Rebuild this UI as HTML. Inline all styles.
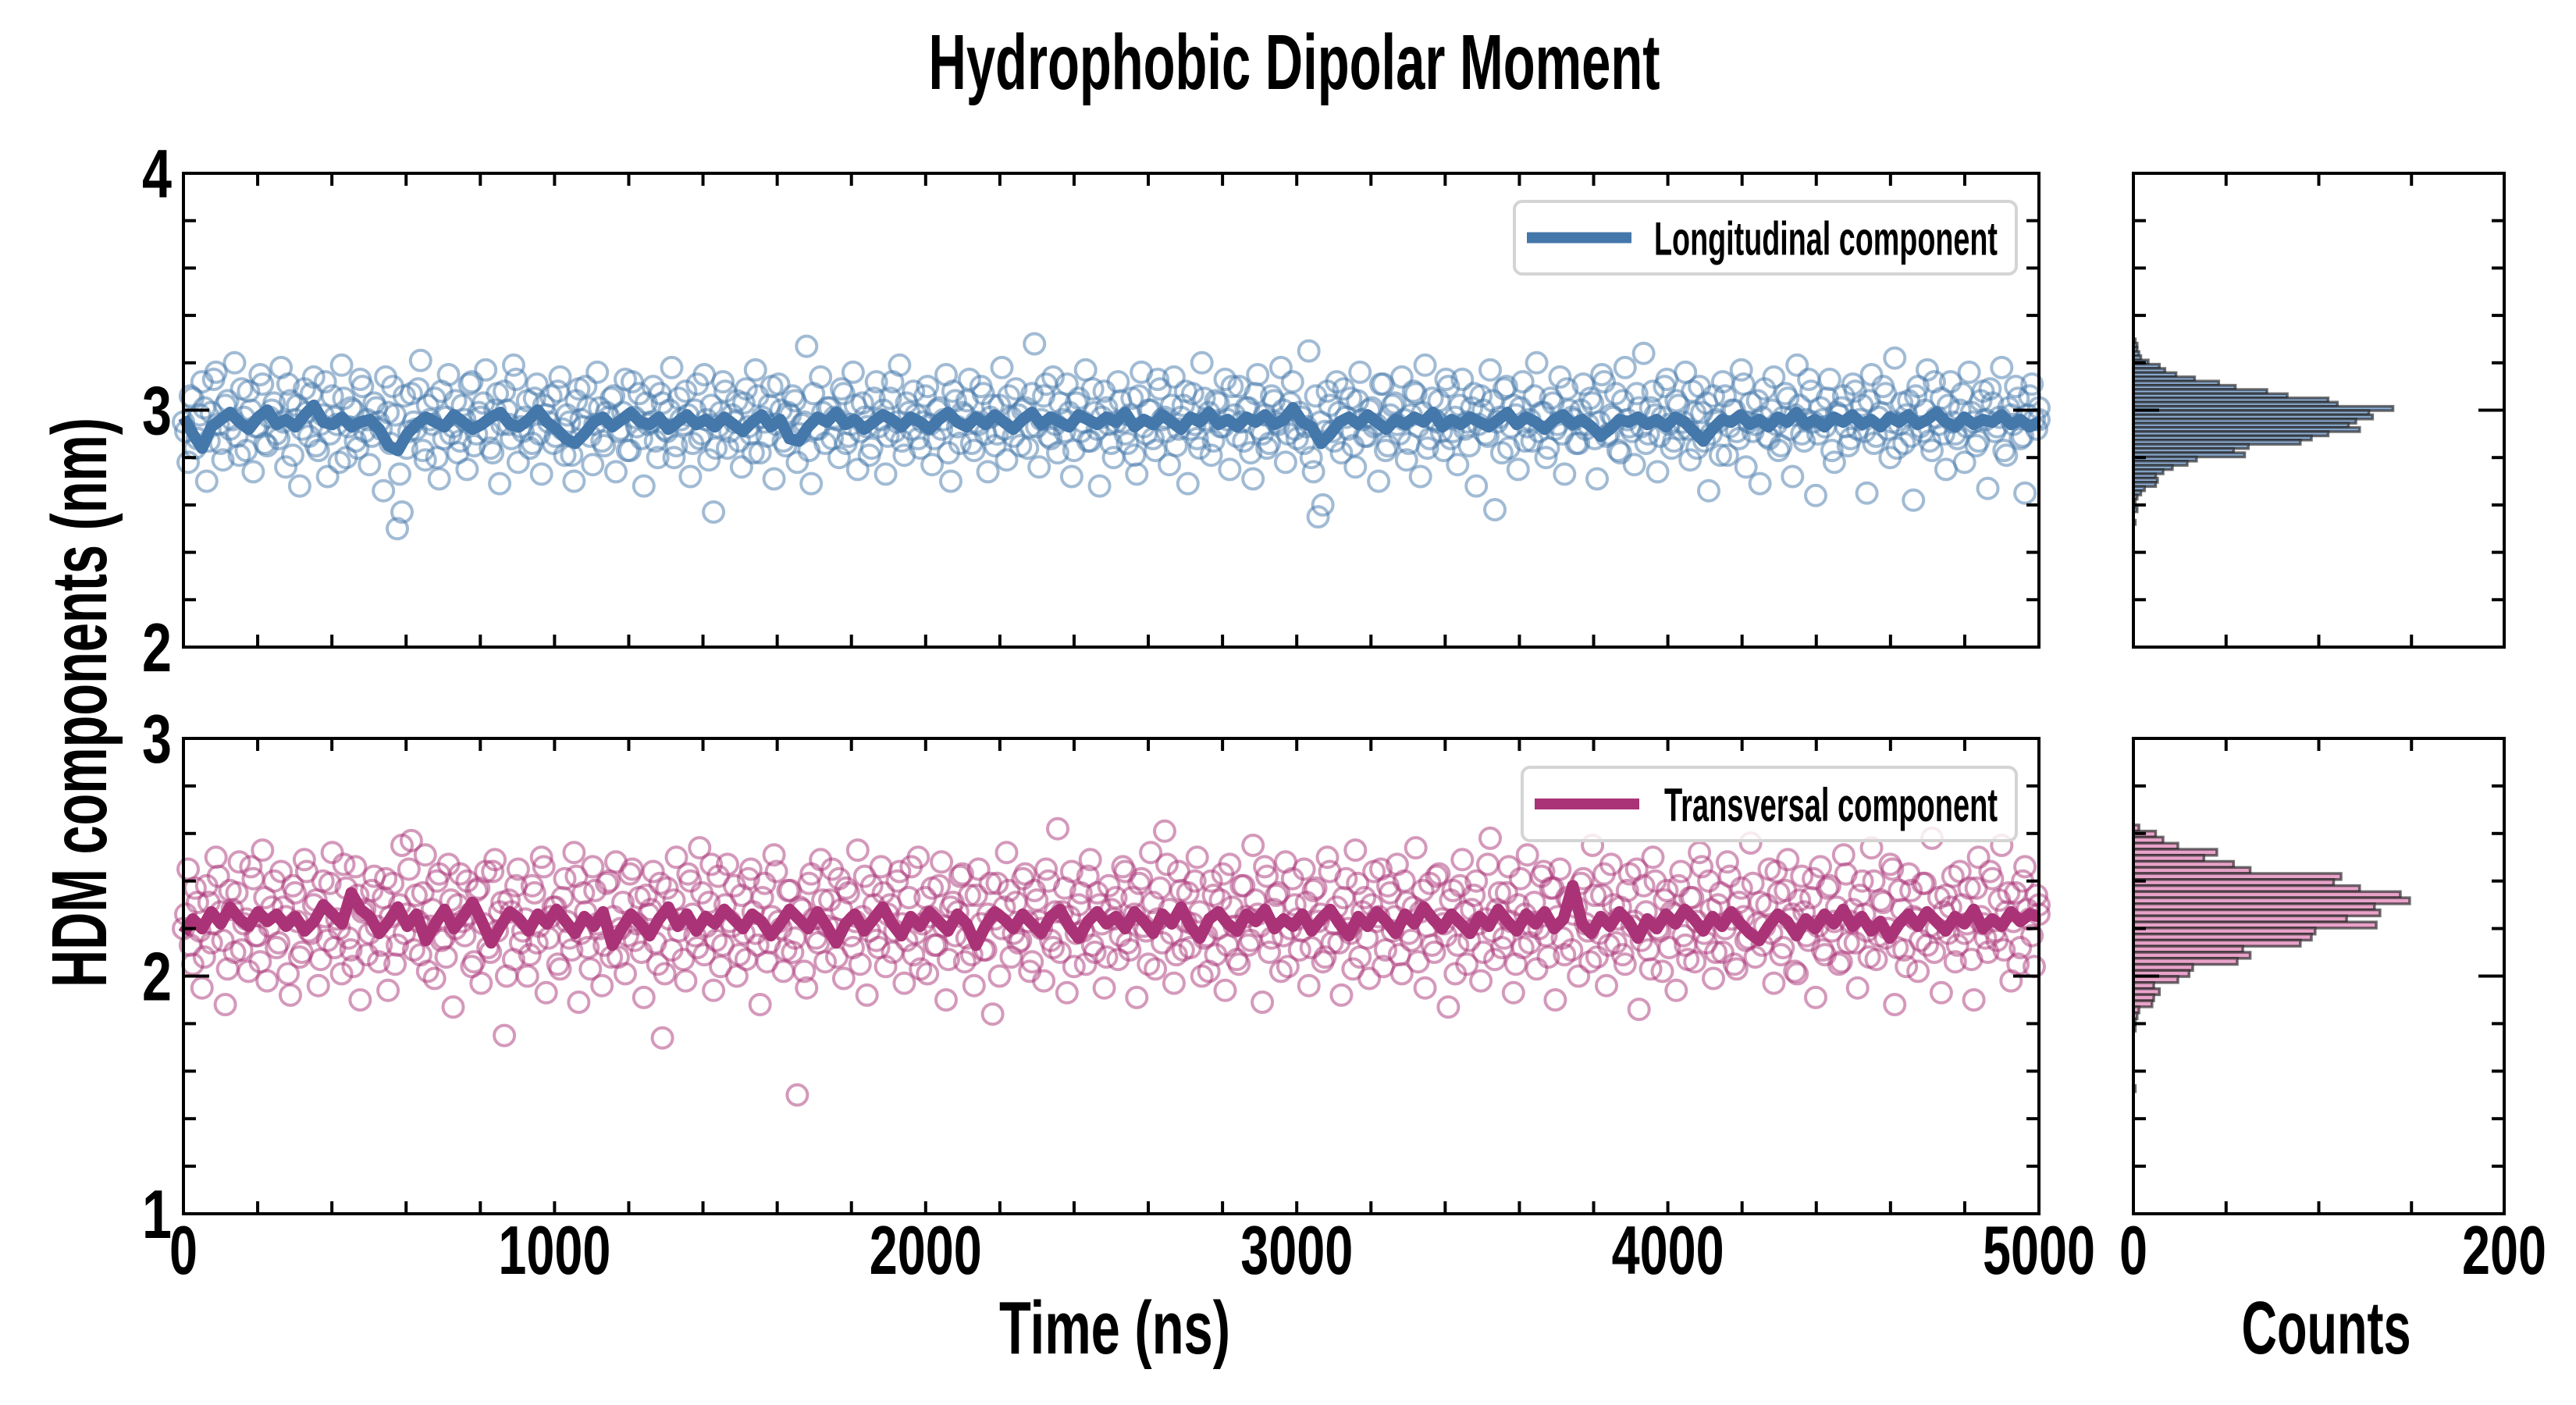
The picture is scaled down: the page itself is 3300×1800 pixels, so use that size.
<!DOCTYPE html>
<html><head><meta charset="utf-8"><style>
html,body{margin:0;padding:0;background:#fff;}
svg{display:block;}
text{font-family:"Liberation Sans Narrow","Liberation Sans",sans-serif;font-weight:bold;fill:#000;}
</style></head><body>
<svg id="chart" width="3300" height="1800" viewBox="0 0 3300 1800" xmlns="http://www.w3.org/2000/svg">
<text x="1658" y="114" font-size="100" text-anchor="middle" textLength="937" lengthAdjust="spacingAndGlyphs">Hydrophobic Dipolar Moment</text>
<text x="0" y="0" font-size="100" text-anchor="middle" textLength="730" lengthAdjust="spacingAndGlyphs" transform="translate(136,900) rotate(-90)">HDM components (nm)</text>
<text x="1428" y="1734" font-size="96" text-anchor="middle" textLength="296" lengthAdjust="spacingAndGlyphs">Time (ns)</text>
<text x="2980" y="1734" font-size="96" text-anchor="middle" textLength="217" lengthAdjust="spacingAndGlyphs">Counts</text>
<g id="layer"></g>
</svg>
<script>
const longValues=[2.95,2.78,3.05,2.88,3.12,2.70,2.99,3.16,2.86,3.02,2.92,3.20,2.81,2.97,3.08,2.74,2.93,3.11,2.85,3.00,
2.90,3.18,2.76,3.04,2.96,2.68,3.09,2.89,3.14,2.83,2.98,2.72,3.06,2.94,3.19,2.80,3.01,2.87,3.13,2.91,
2.77,3.03,2.95,2.66,2.99,3.10,2.50,2.57,2.84,3.07,2.92,3.21,2.79,2.96,3.05,2.71,2.88,3.15,2.93,2.82,
3.02,2.75,3.12,2.90,2.97,3.17,2.84,3.00,2.69,3.08,2.94,3.19,2.78,2.91,3.04,2.86,3.11,2.73,2.98,3.06,
2.89,3.14,2.81,2.95,2.70,3.09,2.93,3.01,2.77,3.16,2.87,2.99,3.05,2.74,2.92,3.13,2.83,2.97,3.07,2.68,
2.94,3.10,2.80,3.03,2.91,3.18,2.85,2.96,3.08,2.72,3.00,2.88,3.15,2.79,2.57,2.93,3.12,2.84,2.98,3.04,
2.76,3.09,2.90,3.17,2.82,2.95,3.02,2.71,3.11,2.87,2.99,3.06,2.78,2.94,3.27,2.69,2.92,3.14,2.86,3.01,
2.97,2.80,3.07,2.89,3.16,2.75,3.03,2.93,2.84,3.12,2.96,2.73,3.05,2.91,3.19,2.81,2.99,3.08,2.88,2.95,
3.10,2.77,3.00,2.92,3.15,2.70,3.04,2.86,2.98,3.13,2.83,2.94,3.07,2.74,3.02,2.90,3.18,2.79,2.97,3.09,
2.85,3.01,2.93,3.28,2.76,3.06,2.89,3.14,2.82,2.96,3.11,2.72,3.03,2.91,3.17,2.87,2.99,2.68,3.08,2.94,
2.80,3.12,2.95,2.86,3.05,2.73,3.16,2.90,3.00,2.83,3.09,2.97,2.77,3.14,2.92,3.02,2.69,3.07,2.88,3.20,
2.96,2.81,3.04,2.93,3.13,2.75,2.98,3.10,2.87,3.01,2.71,3.15,2.90,2.84,3.06,2.95,3.18,2.78,3.03,2.92,
2.99,2.86,3.25,2.74,2.55,2.60,3.08,2.91,3.12,2.82,2.97,3.05,2.76,3.16,2.89,3.00,2.93,2.70,3.11,2.85,
3.02,2.94,3.14,2.79,2.98,3.07,2.72,3.19,2.88,2.96,3.04,2.83,3.10,2.91,2.77,3.13,2.95,3.01,2.68,3.06,
2.90,3.17,2.58,2.97,3.09,2.84,3.02,2.75,3.12,2.93,2.87,3.20,2.99,2.80,3.05,2.92,3.14,2.73,3.00,2.96,
2.86,3.11,2.94,3.03,2.71,3.15,2.89,2.98,3.07,2.82,3.18,2.93,2.77,3.01,3.24,2.90,3.08,2.74,2.97,3.13,
2.84,3.04,2.92,3.16,2.79,2.99,3.10,2.87,2.66,3.06,2.95,3.12,2.81,3.00,2.91,3.17,2.76,3.03,2.94,2.69,
3.09,2.88,3.14,2.83,2.97,3.05,2.72,3.19,2.90,2.96,3.08,2.64,3.01,2.93,3.13,2.78,2.98,3.06,2.85,3.11,
2.92,3.02,2.65,3.15,2.89,2.99,3.07,2.80,3.22,2.94,2.86,3.04,2.62,3.10,2.91,3.17,2.83,2.97,3.05,2.75,
3.12,2.90,3.00,2.78,3.16,2.95,2.87,3.08,2.67,3.03,2.93,3.18,2.81,2.98,3.10,2.88,2.65,3.06,2.96,3.01];
const longValuesB=[2.91,3.06,2.84,2.98,3.01,2.87,3.13,2.94,2.79,3.04,2.96,2.89,3.09,2.83,3.00,2.93,3.15,2.86,2.97,3.03,
2.88,2.95,3.11,2.81,3.02,2.92,2.99,3.07,2.85,2.94,3.12,2.90,2.97,2.78,3.05,2.93,3.00,2.84,3.10,2.96,
2.89,3.01,2.92,3.14,2.86,2.98,2.73,3.06,2.91,2.95,3.09,2.83,3.02,2.94,2.80,3.08,2.97,2.90,3.04,2.87,
2.96,3.11,2.85,2.99,3.03,2.91,2.82,3.07,2.94,3.00,2.88,3.13,2.93,2.97,2.84,3.05,2.90,3.02,2.95,2.86,
3.08,2.92,2.98,2.81,3.04,2.96,3.10,2.89,2.94,3.01,2.85,2.97,3.06,2.91,2.99,2.83,3.12,2.93,2.88,3.03,
2.95,2.87,3.07,2.92,3.00,2.80,3.05,2.94,2.98,2.86,3.11,2.90,2.96,3.02,2.84,2.99,3.08,2.91,2.95,2.87,
3.03,2.93,2.82,3.06,2.97,2.89,3.10,2.94,3.00,2.85,2.98,3.04,2.90,2.95,2.83,3.07,2.92,2.99,3.01,2.88,
2.96,3.09,2.86,2.94,3.02,2.91,2.97,2.81,3.05,2.93,3.00,2.89,3.12,2.95,2.87,3.03,2.92,2.98,2.84,3.06,
2.94,2.88,3.01,2.96,2.82,3.08,2.93,2.99,3.04,2.86,2.95,3.10,2.90,2.97,2.85,3.02,2.92,3.06,2.89,2.98,
3.00,2.84,3.07,2.93,2.96,3.11,2.88,2.94,3.03,2.91,2.99,2.83,3.05,2.95,2.87,3.09,2.92,2.97,3.01,2.86,
2.95,3.04,2.90,2.98,2.81,3.06,2.93,3.00,2.88,3.13,2.96,2.91,3.02,2.85,2.97,3.08,2.92,2.94,2.84,3.05,
2.99,2.87,3.03,2.93,2.96,3.10,2.89,2.95,3.01,2.82,3.07,2.92,2.98,2.86,3.04,2.94,3.00,2.90,3.12,2.88,
2.97,2.93,2.80,3.06,2.95,2.91,3.02,2.87,2.99,3.09,2.92,2.85,3.04,2.96,2.89,3.01,2.94,3.11,2.83,2.98,
3.03,2.90,2.96,2.86,3.08,2.93,2.99,2.84,3.05,2.95,2.91,3.13,2.88,2.97,3.02,2.92,2.85,3.07,2.94,3.00,
2.89,3.04,2.95,2.82,3.10,2.93,2.98,3.01,2.87,2.96,3.06,2.91,2.99,2.84,3.03,2.94,2.90,3.09,2.97,2.86,
3.00,2.92,3.05,2.88,2.95,3.12,2.90,2.97,2.83,3.04,2.96,2.91,3.07,2.93,2.86,3.01,2.98,2.89,3.10,2.94,
2.87,3.02,2.95,2.92,3.08,2.84,2.99,3.03,2.90,2.96,2.81,3.06,2.93,3.00,2.88,3.11,2.95,2.91,3.04,2.97,
2.89,3.00,2.94,2.85,3.07,2.92,2.98,3.02,2.87,3.13,2.95,2.90,2.96,3.05,2.83,2.99,3.01,2.93,2.88,3.08,
2.96,2.91,3.04,2.86,2.97,3.10,2.92,2.95,2.84,3.03,2.98,2.89,3.06,2.93,3.00,2.87,3.12,2.94,2.90,3.02,
2.95,2.88,3.07,2.93,2.99,2.85,3.04,2.96,3.09,2.91,2.97,2.83,3.01,2.94,3.05,2.89,2.98,3.11,2.92,2.96];
const transValues=[2.20,2.45,2.05,2.31,1.95,2.38,2.14,2.50,2.27,1.88,2.36,2.10,2.48,2.22,2.02,2.41,2.17,2.53,1.98,2.29,
2.12,2.44,2.25,1.92,2.35,2.08,2.49,2.19,2.30,1.96,2.40,2.15,2.52,2.24,2.01,2.37,2.11,2.46,1.90,2.28,
2.18,2.42,2.06,2.33,1.94,2.39,2.13,2.55,2.26,2.57,2.34,2.09,2.51,2.21,1.99,2.43,2.16,2.47,1.87,2.30,
2.23,2.40,2.04,2.36,1.97,2.44,2.10,2.49,2.27,1.75,2.32,2.07,2.45,2.19,2.00,2.38,2.14,2.50,1.93,2.25,
2.29,2.03,2.41,2.16,2.52,1.89,2.35,2.12,2.46,2.22,1.96,2.39,2.08,2.48,2.20,2.01,2.43,2.15,2.33,1.91,
2.26,2.44,2.05,1.74,2.37,2.11,2.50,2.24,1.98,2.40,2.17,2.54,2.09,2.31,1.94,2.42,2.13,2.47,2.21,2.00,
2.34,2.07,2.45,2.18,1.88,2.39,2.14,2.51,2.23,2.02,2.36,2.10,1.50,2.28,1.95,2.43,2.16,2.49,2.06,2.32,
2.20,2.41,1.99,2.35,2.12,2.53,2.25,1.92,2.38,2.15,2.46,2.04,2.30,2.19,2.44,1.97,2.33,2.09,2.50,2.22,
2.01,2.37,2.13,2.48,1.90,2.29,2.17,2.42,2.06,2.34,1.96,2.45,2.11,2.26,1.84,2.39,2.20,2.52,2.08,2.31,
2.15,2.43,2.02,2.36,2.23,1.98,2.40,2.12,2.62,2.27,1.93,2.44,2.18,2.35,2.05,2.49,2.10,2.30,1.95,2.38,
2.24,2.07,2.46,2.14,2.33,1.91,2.41,2.19,2.52,2.03,2.37,2.61,2.28,1.97,2.44,2.11,2.35,2.22,2.50,2.00,
2.17,2.40,2.09,2.32,1.94,2.47,2.21,2.05,2.38,2.13,2.55,2.26,1.89,2.42,2.16,2.34,2.02,2.48,2.20,2.30,
2.11,2.45,1.96,2.36,2.23,2.06,2.50,2.14,2.29,1.92,2.41,2.18,2.53,2.08,2.33,1.99,2.44,2.25,2.04,2.38,
2.19,2.47,2.01,2.31,2.15,2.54,2.27,1.95,2.39,2.10,2.43,2.22,1.87,2.36,2.13,2.49,2.05,2.28,2.40,1.98,
2.24,2.58,2.07,2.35,2.16,2.46,1.93,2.30,2.12,2.51,2.21,2.03,2.42,2.17,2.37,1.90,2.45,2.09,2.32,2.26,
2.00,2.41,2.19,2.55,2.08,2.34,1.96,2.47,2.14,2.29,2.05,2.43,2.23,1.86,2.38,2.11,2.50,2.20,2.02,2.36,
2.27,1.94,2.44,2.13,2.33,2.06,2.52,2.18,2.40,1.99,2.30,2.10,2.48,2.24,2.03,2.37,2.15,2.56,2.08,2.31,
2.21,2.45,1.97,2.35,2.12,2.49,2.26,2.01,2.42,2.17,2.33,1.91,2.46,2.09,2.38,2.23,2.05,2.51,2.14,2.28,
1.95,2.40,2.19,2.54,2.07,2.32,2.16,2.47,1.88,2.36,2.11,2.43,2.25,2.02,2.39,2.13,2.58,2.20,1.93,2.34,
2.29,2.06,2.44,2.18,2.37,1.90,2.50,2.22,2.10,2.41,2.15,2.55,2.27,1.98,2.35,2.12,2.46,2.24,2.04,2.30];
const transValuesB=[2.26,2.13,2.37,2.19,2.08,2.31,2.22,2.42,2.15,2.03,2.28,2.35,2.11,2.24,2.46,2.17,2.06,2.33,2.21,2.40,
2.14,2.29,2.01,2.38,2.23,2.10,2.44,2.18,2.32,2.07,2.25,2.39,2.12,2.20,2.47,2.16,2.04,2.34,2.27,2.09,
2.36,2.21,2.13,2.41,2.25,2.05,2.30,2.18,2.45,2.11,2.23,2.35,2.02,2.28,2.40,2.15,2.08,2.32,2.20,2.43,
2.17,2.26,2.06,2.37,2.22,2.12,2.44,2.19,2.31,2.00,2.27,2.38,2.14,2.24,2.09,2.35,2.21,2.46,2.16,2.29,
2.05,2.33,2.23,2.11,2.42,2.18,2.27,2.03,2.36,2.20,2.13,2.40,2.25,2.08,2.31,2.17,2.45,2.22,2.10,2.34,
2.28,2.14,2.39,2.01,2.24,2.32,2.19,2.07,2.43,2.26,2.12,2.35,2.21,2.47,2.15,2.04,2.30,2.23,2.38,2.09,
2.18,2.41,2.27,2.13,2.33,2.06,2.25,2.44,2.20,2.11,2.36,2.16,2.29,2.02,2.39,2.24,2.14,2.32,2.21,2.45,
2.08,2.28,2.37,2.17,2.23,2.05,2.42,2.19,2.30,2.12,2.35,2.26,2.10,2.40,2.22,2.15,2.46,2.18,2.03,2.33,
2.25,2.13,2.38,2.21,2.07,2.31,2.27,2.43,2.16,2.09,2.34,2.22,2.11,2.39,2.24,2.00,2.29,2.36,2.18,2.14,
2.41,2.23,2.06,2.32,2.20,2.45,2.15,2.27,2.10,2.37,2.25,2.04,2.30,2.19,2.42,2.13,2.35,2.22,2.08,2.28,
2.33,2.17,2.44,2.11,2.26,2.39,2.21,2.05,2.31,2.24,2.14,2.47,2.18,2.09,2.36,2.23,2.12,2.40,2.27,2.16,
2.02,2.34,2.20,2.43,2.13,2.29,2.07,2.38,2.25,2.15,2.32,2.21,2.46,2.10,2.28,2.35,2.17,2.04,2.41,2.24,
2.19,2.31,2.12,2.37,2.26,2.08,2.44,2.22,2.14,2.33,2.20,2.03,2.39,2.27,2.16,2.30,2.23,2.45,2.11,2.35,
2.25,2.09,2.40,2.18,2.29,2.06,2.36,2.21,2.13,2.42,2.24,2.17,2.32,2.01,2.38,2.27,2.15,2.34,2.22,2.10,
2.47,2.19,2.28,2.12,2.35,2.23,2.05,2.41,2.26,2.14,2.31,2.20,2.44,2.08,2.37,2.25,2.16,2.33,2.11,2.29,
2.39,2.22,2.06,2.34,2.18,2.43,2.13,2.30,2.24,2.09,2.36,2.21,2.45,2.15,2.27,2.03,2.40,2.19,2.32,2.12,
2.26,2.38,2.17,2.07,2.33,2.23,2.46,2.14,2.28,2.10,2.35,2.20,2.42,2.05,2.31,2.25,2.16,2.39,2.22,2.13,
2.30,2.18,2.44,2.09,2.36,2.24,2.02,2.32,2.27,2.15,2.41,2.21,2.11,2.37,2.19,2.29,2.06,2.43,2.23,2.14,
2.34,2.26,2.08,2.40,2.17,2.31,2.20,2.45,2.12,2.28,2.04,2.36,2.24,2.15,2.39,2.21,2.10,2.33,2.27,2.18,
2.42,2.13,2.30,2.22,2.07,2.37,2.25,2.16,2.44,2.19,2.32,2.11,2.35,2.23,2.05,2.40,2.28,2.17,2.34,2.26];
const longAvg=[2.97,2.90,2.84,2.93,2.96,2.99,2.95,2.92,2.97,3.00,2.94,2.96,2.93,2.98,3.02,2.95,2.94,2.97,2.93,2.95,
2.96,2.92,2.85,2.83,2.90,2.94,2.97,2.95,2.93,2.98,2.95,2.92,2.94,2.97,2.99,2.94,2.93,2.96,3.00,2.95,
2.92,2.88,2.86,2.90,2.95,2.97,2.93,2.96,2.99,2.95,2.94,2.97,2.92,2.95,2.98,2.94,2.96,2.93,2.97,2.94,
2.91,2.95,2.98,2.93,2.96,2.88,2.87,2.93,2.97,2.95,2.99,2.94,2.96,2.92,2.95,2.98,2.96,2.93,2.97,2.95,
2.92,2.96,2.99,2.95,2.93,2.97,2.94,2.98,2.95,2.92,2.96,2.99,2.94,2.97,2.95,2.93,2.98,2.96,2.94,2.97,
2.95,2.99,2.93,2.96,2.94,2.98,2.95,2.92,2.97,2.95,2.99,2.94,2.96,2.93,2.97,2.95,2.98,2.94,2.96,3.01,
2.95,2.93,2.86,2.90,2.95,2.97,2.94,2.98,2.95,2.92,2.96,2.94,2.97,2.95,2.99,2.93,2.96,2.94,2.97,2.95,
2.93,2.96,2.99,2.94,2.97,2.95,2.92,2.96,2.98,2.94,2.96,2.93,2.89,2.92,2.96,2.95,2.97,2.94,2.96,2.93,
2.97,2.95,2.91,2.87,2.92,2.96,2.95,2.98,2.94,2.96,2.93,2.97,2.95,2.99,2.94,2.96,2.93,2.97,2.95,2.98,
2.94,2.96,2.93,2.97,2.95,2.98,2.94,2.96,2.99,2.95,2.93,2.97,2.94,2.96,2.95,2.98,2.94,2.96,2.93,2.95];
const transAvg=[2.18,2.24,2.20,2.27,2.22,2.29,2.24,2.21,2.27,2.23,2.26,2.21,2.25,2.19,2.23,2.30,2.26,2.22,2.35,2.28,
2.25,2.18,2.23,2.29,2.21,2.26,2.15,2.22,2.28,2.20,2.25,2.31,2.23,2.14,2.21,2.27,2.24,2.19,2.26,2.22,
2.28,2.23,2.18,2.25,2.21,2.27,2.13,2.20,2.26,2.22,2.17,2.24,2.29,2.21,2.26,2.19,2.25,2.22,2.28,2.24,
2.20,2.26,2.23,2.17,2.22,2.28,2.24,2.20,2.27,2.21,2.14,2.22,2.26,2.19,2.24,2.29,2.22,2.17,2.25,2.21,
2.27,2.23,2.19,2.26,2.22,2.13,2.21,2.27,2.24,2.20,2.26,2.22,2.18,2.25,2.28,2.21,2.16,2.23,2.27,2.22,
2.25,2.20,2.27,2.23,2.18,2.26,2.22,2.29,2.21,2.16,2.24,2.27,2.22,2.19,2.26,2.23,2.28,2.20,2.24,2.21,
2.26,2.19,2.24,2.28,2.22,2.17,2.25,2.21,2.27,2.23,2.18,2.26,2.22,2.29,2.24,2.20,2.26,2.22,2.18,2.25,
2.21,2.28,2.23,2.19,2.26,2.22,2.27,2.20,2.24,2.38,2.22,2.18,2.25,2.21,2.27,2.23,2.16,2.24,2.20,2.26,
2.22,2.28,2.24,2.19,2.25,2.21,2.27,2.22,2.18,2.15,2.21,2.26,2.23,2.17,2.24,2.20,2.26,2.22,2.28,2.21,
2.25,2.19,2.23,2.16,2.22,2.26,2.21,2.27,2.23,2.19,2.25,2.22,2.28,2.20,2.24,2.21,2.27,2.23,2.26,2.25];
const longHistCounts=[1,2,2,3,4,8,14,17,23,33,46,55,72,83,105,110,140,127,129,120,116,122,105,96,90,62,54,60,34,29,21,16,12,13,12,6,4,2,1,0,2,0,0,1];
const longHistTop=[3.292];
const longHistBin=[0.0178];
const transHistCounts=[3,12,16,24,45,38,54,63,112,108,122,144,149,130,133,115,131,98,96,90,59,63,56,32,30,24,11,14,11,10,3,2,1,1,0,0,0,0,0,0,0,0,0,1];
const transHistTop=[2.623];
const transHistBin=[0.0255];
const timeRange=[0,5000];
const xTickLabels=["0","1000","2000","3000","4000","5000"];
const topYTicks=["4","3","2"];
const botYTicks=["3","2","1"];
const countTickLabels=["0","200"];

const NS="http://www.w3.org/2000/svg";
const L=235,R=2612,HL=2733,HR=3208;
const P={top:{y0:222,y1:829,vmax:4,vmin:2},bot:{y0:946,y1:1555,vmax:3,vmin:1}};
const layer=document.getElementById('layer');
function mk(tag,attrs,parent){const e=document.createElementNS(NS,tag);for(const k in attrs)e.setAttribute(k,attrs[k]);(parent||layer).appendChild(e);return e;}
function xT(t){return L+(t-timeRange[0])/(timeRange[1]-timeRange[0])*(R-L);}
function yV(p,v){return p.y0+(p.vmax-v)/(p.vmax-p.vmin)*(p.y1-p.y0);}
function xC(c){return HL+c/200*(HR-HL);}

function drawScatter(p,vals,color,name,offset){
  const g=mk('g',{fill:'none',stroke:color,'stroke-width':4,'stroke-opacity':0.5});
  
  
  const dt=(timeRange[1]-timeRange[0])/(vals.length-1);
  vals.forEach((v,i)=>{
    const t=Math.min(timeRange[1],i*dt+offset*dt);
    const c=mk('circle',{cx:xT(t).toFixed(1),cy:yV(p,v).toFixed(1),r:13},g);
    
    
  });
}
function drawLine(p,vals,color,name){
  const dt=(timeRange[1]-timeRange[0])/(vals.length-1);
  const d=vals.map((v,i)=>(i?'L':'M')+xT(i*dt).toFixed(1)+' '+yV(p,v).toFixed(1)).join(' ');
  const e=mk('path',{d:d,fill:'none',stroke:color,'stroke-width':15,'stroke-linejoin':'round'});
  
  
}
function drawHist(p,counts,top,bw,fill,name){
  const g=mk('g',{});
  
  
  counts.forEach((c,i)=>{
    if(c<=0)return;
    const hi=top+bw/2-i*bw, lo=hi-bw;
    const y=yV(p,hi),h=yV(p,lo)-y;
    const r=mk('rect',{x:HL,y:y.toFixed(1),width:(xC(c)-HL).toFixed(1),height:h.toFixed(1),fill:fill,stroke:'#222','stroke-opacity':0.65,'stroke-width':3.5},g);
    
    
  });
}
function frame(x0,x1,p,name,xticks){
  const g=mk('g',{stroke:'#000','stroke-width':4,fill:'none'});
  
  
  for(let k=1;k<10;k++){
    const v=p.vmin+k*0.2, y=yV(p,v), len=(k%5===0)?33:16;
    mk('line',{x1:x0,y1:y,x2:x0+len,y2:y},g);mk('line',{x1:x1,y1:y,x2:x1-len,y2:y},g);
  }
  xticks.forEach(x=>{mk('line',{x1:x,y1:p.y0,x2:x,y2:p.y0+16},g);mk('line',{x1:x,y1:p.y1,x2:x,y2:p.y1-16},g);});
  mk('rect',{x:x0,y:p.y0,width:x1-x0,height:p.y1-p.y0},g);
}
function yLabels(p,labels,name){
  labels.forEach((s,i)=>{
    const v=p.vmax-i*(p.vmax-p.vmin)/(labels.length-1);
    const t=mk('text',{x:220,y:(yV(p,v)+31).toFixed(1),'font-size':88,'text-anchor':'end',textLength:38,lengthAdjust:'spacingAndGlyphs'});
    t.textContent=s;
    
    
  });
}

drawScatter(P.top,longValues,'#4477aa','longitudinal',0);
drawScatter(P.top,longValuesB,'#4477aa','longitudinal-b',0.5);
drawLine(P.top,longAvg,'#4477aa','longitudinal');
drawScatter(P.bot,transValues,'#aa3377','transversal',0);
drawScatter(P.bot,transValuesB,'#aa3377','transversal-b',0.5);
drawLine(P.bot,transAvg,'#aa3377','transversal');
drawHist(P.top,longHistCounts,longHistTop[0],longHistBin[0],'#8fb0d6','longitudinal');
drawHist(P.bot,transHistCounts,transHistTop[0],transHistBin[0],'#e8a2c8','transversal');

const tx=[];for(let t=200;t<5000;t+=200)tx.push(xT(t));
const hx=[xC(50),xC(100),xC(150)];
frame(L,R,P.top,'top-main',tx);
frame(L,R,P.bot,'bottom-main',tx);
frame(HL,HR,P.top,'top-hist',hx);
frame(HL,HR,P.bot,'bottom-hist',hx);
yLabels(P.top,topYTicks,'top');
yLabels(P.bot,botYTicks,'bottom');

xTickLabels.forEach((s,i)=>{
  const t0=timeRange[0]+i*(timeRange[1]-timeRange[0])/(xTickLabels.length-1);
  const t=mk('text',{x:xT(t0).toFixed(1),y:1632,'font-size':88,'text-anchor':'middle',textLength:36*s.length,lengthAdjust:'spacingAndGlyphs'});
  t.textContent=s;
  
  
});
countTickLabels.forEach((s,i)=>{
  const t=mk('text',{x:xC(i*200).toFixed(1),y:1632,'font-size':88,'text-anchor':'middle',textLength:36*s.length,lengthAdjust:'spacingAndGlyphs'});
  t.textContent=s;
  
  
});

function legend(x,y,w,h,color,label,name,tl){
  const g=mk('g',{});
  
  
  mk('rect',{x:x,y:y,width:w,height:h,rx:10,fill:'#fff','fill-opacity':0.8,stroke:'#d4d4d4','stroke-width':4},g);
  const ln=mk('line',{x1:x+16,y1:y+h/2,x2:x+150,y2:y+h/2,stroke:color,'stroke-width':14},g);
  
  
  const t=mk('text',{x:x+w-24,y:y+h/2+22,'font-size':60,'text-anchor':'end',textLength:tl,lengthAdjust:'spacingAndGlyphs'},g);
  t.textContent=label;
  
  
}
legend(1940,258,643,93,'#4477aa','Longitudinal component','longitudinal',440);
legend(1950,983,633,94,'#aa3377','Transversal component','transversal',427);
</script>
</body></html>
